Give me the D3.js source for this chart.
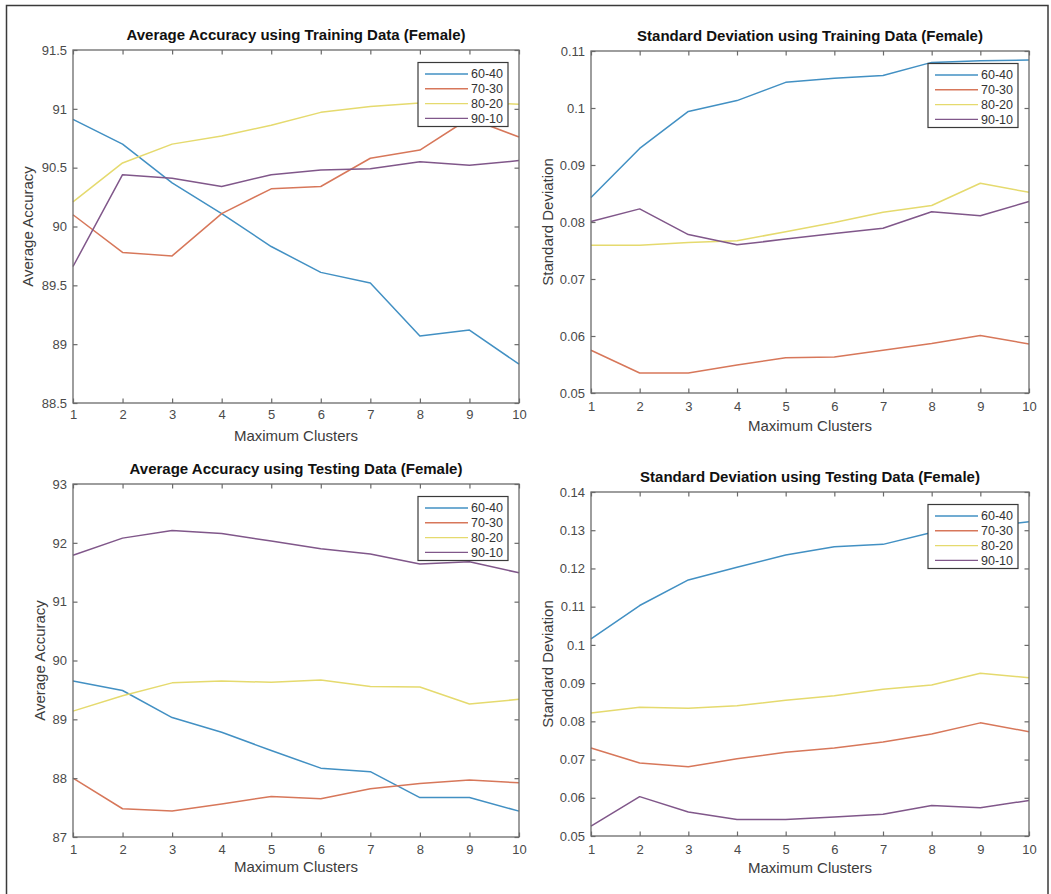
<!DOCTYPE html>
<html><head><meta charset="utf-8">
<script src="https://cdn.jsdelivr.net/npm/d3@7"></script>
<style>
html,body{margin:0;padding:0;background:#fff;}
svg{display:block;font-family:"Liberation Sans",Arial,Helvetica,sans-serif;}
</style></head><body>
<svg id="fig" width="1051" height="894"></svg>
<script>
// x values shared by every panel
const clusters = [1, 2, 3, 4, 5, 6, 7, 8, 9, 10];
const splits = ["60-40", "70-30", "80-20", "90-10"];
const splitColors = ["#4290c3", "#d7775a", "#e5da6e", "#80578a"];

// Average accuracy, training data
const accTrain6040 = [90.91, 90.70, 90.37, 90.11, 89.83, 89.61, 89.52, 89.07, 89.12, 88.83];
const accTrain7030 = [90.10, 89.78, 89.75, 90.11, 90.32, 90.34, 90.58, 90.65, 90.92, 90.76];
const accTrain8020 = [90.21, 90.54, 90.70, 90.77, 90.86, 90.97, 91.02, 91.05, 91.05, 91.04];
const accTrain9010 = [89.66, 90.44, 90.41, 90.34, 90.44, 90.48, 90.49, 90.55, 90.52, 90.56];
const accTrainTicks = [88.5, 89, 89.5, 90, 90.5, 91, 91.5];

// Standard deviation, training data
const sdTrain6040 = [0.0843, 0.0929, 0.0994, 0.1013, 0.1045, 0.1052, 0.1057, 0.1080, 0.1083, 0.1084];
const sdTrain7030 = [0.0575, 0.0535, 0.0535, 0.0549, 0.0562, 0.0563, 0.0575, 0.0587, 0.0601, 0.0586];
const sdTrain8020 = [0.0759, 0.0759, 0.0764, 0.0767, 0.0783, 0.0799, 0.0817, 0.0829, 0.0868, 0.0852];
const sdTrain9010 = [0.0801, 0.0823, 0.0778, 0.0760, 0.0770, 0.0780, 0.0789, 0.0818, 0.0811, 0.0836];
const sdTrainTicks = [0.05, 0.06, 0.07, 0.08, 0.09, 0.10, 0.11];

// Average accuracy, testing data
const accTest6040 = [89.65, 89.49, 89.03, 88.78, 88.47, 88.17, 88.11, 87.67, 87.67, 87.44];
const accTest7030 = [88.00, 87.48, 87.44, 87.56, 87.69, 87.65, 87.82, 87.91, 87.97, 87.92];
const accTest8020 = [89.14, 89.40, 89.62, 89.65, 89.63, 89.67, 89.56, 89.55, 89.26, 89.34];
const accTest9010 = [91.79, 92.08, 92.21, 92.16, 92.03, 91.90, 91.81, 91.64, 91.68, 91.49];
const accTestTicks = [87, 88, 89, 90, 91, 92, 93];

// Standard deviation, testing data
const sdTest6040 = [0.1016, 0.1103, 0.1170, 0.1203, 0.1235, 0.1257, 0.1263, 0.1294, 0.1308, 0.1322];
const sdTest7030 = [0.0730, 0.0691, 0.0681, 0.0702, 0.0719, 0.0730, 0.0746, 0.0767, 0.0796, 0.0773];
const sdTest8020 = [0.0822, 0.0837, 0.0834, 0.0841, 0.0855, 0.0867, 0.0884, 0.0895, 0.0926, 0.0914];
const sdTest9010 = [0.0526, 0.0603, 0.0563, 0.0543, 0.0543, 0.0550, 0.0557, 0.0580, 0.0574, 0.0593];
const sdTestTicks = [0.05, 0.06, 0.07, 0.08, 0.09, 0.10, 0.11, 0.12, 0.13, 0.14];

const panels = [
  { title: "Average Accuracy using Training Data (Female)", ylabel: "Average Accuracy",
    series: [accTrain6040, accTrain7030, accTrain8020, accTrain9010], ticks: accTrainTicks,
    box: { left: 73, right: 519, top: 50, bottom: 403 }, ylabelX: 28, xPad: 7, xlabelDy: 38 },
  { title: "Standard Deviation using Training Data (Female)", ylabel: "Standard Deviation",
    series: [sdTrain6040, sdTrain7030, sdTrain8020, sdTrain9010], ticks: sdTrainTicks,
    box: { left: 591, right: 1029, top: 51, bottom: 393 }, ylabelX: 548, xPad: 9, xlabelDy: 38 },
  { title: "Average Accuracy using Testing Data (Female)", ylabel: "Average Accuracy",
    series: [accTest6040, accTest7030, accTest8020, accTest9010], ticks: accTestTicks,
    box: { left: 73, right: 519, top: 484, bottom: 837 }, ylabelX: 40, xPad: 8, xlabelDy: 35 },
  { title: "Standard Deviation using Testing Data (Female)", ylabel: "Standard Deviation",
    series: [sdTest6040, sdTest7030, sdTest8020, sdTest9010], ticks: sdTestTicks,
    box: { left: 591, right: 1029, top: 492, bottom: 836 }, ylabelX: 548, xPad: 9, xlabelDy: 37 }
];

const svg = d3.select("#fig");
const axisColor = "#6a6a6a";
const labelColor = "#4a4a4a";
const fmtTick = v => String(+v.toFixed(2));

// outer frame around the figure
svg.append("rect")
  .attr("x", 6.5).attr("y", 5.5).attr("width", 1041.5).attr("height", 900)
  .attr("fill", "none").attr("stroke", "#3a3a3a").attr("stroke-width", 1.5);

panels.forEach(p => {
  const b = p.box;
  const x = d3.scaleLinear().domain([1, 10]).range([b.left, b.right]);
  const y = d3.scaleLinear().domain([p.ticks[0], p.ticks[p.ticks.length - 1]]).range([b.bottom, b.top]);
  const g = svg.append("g");

  // data lines
  const line = d3.line().x((d, i) => x(clusters[i])).y(d => y(d));
  p.series.forEach((s, k) => {
    g.append("path").datum(s).attr("d", line)
      .attr("fill", "none").attr("stroke", splitColors[k])
      .attr("stroke-width", 1.5).attr("stroke-linejoin", "round");
  });

  // axes with inward ticks on all four sides
  const styleAxis = sel => {
    sel.select(".domain").remove();
    sel.selectAll(".tick line").attr("stroke", axisColor).attr("stroke-width", 1.2);
    sel.selectAll(".tick text").attr("fill", labelColor).style("font-size", "13px")
      .style("font-family", '"Liberation Sans", Arial, sans-serif');
  };
  g.append("g").attr("transform", `translate(0,${b.bottom})`)
    .call(d3.axisBottom(x).tickValues(clusters).tickFormat(d3.format("d")).tickSize(-4.5).tickPadding(p.xPad))
    .call(styleAxis);
  g.append("g").attr("transform", `translate(0,${b.top})`)
    .call(d3.axisTop(x).tickValues(clusters).tickFormat("").tickSize(-4.5))
    .call(styleAxis);
  g.append("g").attr("transform", `translate(${b.left},0)`)
    .call(d3.axisLeft(y).tickValues(p.ticks).tickFormat(fmtTick).tickSize(-4.5).tickPadding(6))
    .call(styleAxis);
  g.append("g").attr("transform", `translate(${b.right},0)`)
    .call(d3.axisRight(y).tickValues(p.ticks).tickFormat("").tickSize(-4.5))
    .call(styleAxis);

  g.append("rect")
    .attr("x", b.left).attr("y", b.top)
    .attr("width", b.right - b.left).attr("height", b.bottom - b.top)
    .attr("fill", "none").attr("stroke", axisColor).attr("stroke-width", 1.3);

  // title and axis labels
  const cx = (b.left + b.right) / 2;
  g.append("text").attr("x", cx).attr("y", b.top - 10)
    .attr("text-anchor", "middle").attr("fill", "#111")
    .style("font-size", "15px").style("font-weight", "bold").text(p.title);
  g.append("text").attr("x", cx).attr("y", b.bottom + p.xlabelDy)
    .attr("text-anchor", "middle").attr("fill", "#3c3c3c")
    .style("font-size", "15px").text("Maximum Clusters");
  g.append("text")
    .attr("transform", `translate(${p.ylabelX},${(b.top + b.bottom) / 2}) rotate(-90)`)
    .attr("text-anchor", "middle").attr("dy", "0.35em").attr("fill", "#3c3c3c")
    .style("font-size", "15px").text(p.ylabel);

  // legend in the upper-right corner
  const lw = 90, lh = 64;
  const lx = b.right - 11 - lw, ly = b.top + 12.5;
  const lg = g.append("g").attr("transform", `translate(${lx},${ly})`);
  lg.append("rect").attr("width", lw).attr("height", lh)
    .attr("fill", "#fff").attr("stroke", "#3a3a3a").attr("stroke-width", 1.2);
  splits.forEach((name, k) => {
    const ry = 11.5 + k * 14.8;
    lg.append("line").attr("x1", 7).attr("x2", 50).attr("y1", ry).attr("y2", ry)
      .attr("stroke", splitColors[k]).attr("stroke-width", 1.4);
    lg.append("text").attr("x", 53).attr("y", ry).attr("dy", "0.35em")
      .attr("fill", "#333").style("font-size", "12.5px").text(name);
  });
});
</script>
</body></html>
